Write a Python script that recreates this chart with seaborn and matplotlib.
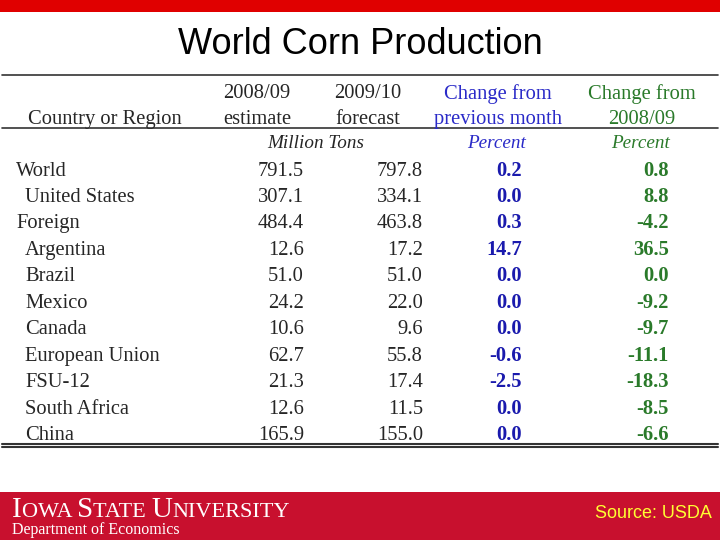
import matplotlib
matplotlib.use('Agg')
import matplotlib.pyplot as plt
import seaborn as sns
import pandas as pd

# table data
regions = ['World', 'United States', 'Foreign', 'Argentina', 'Brazil', 'Mexico',
           'Canada', 'European Union', 'FSU-12', 'South Africa', 'China']
indented = [False, True, False, True, True, True, True, True, True, True, True]
est_0809 = [791.5, 307.1, 484.4, 12.6, 51.0, 24.2, 10.6, 62.7, 21.3, 12.6, 165.9]
fc_0910 = [797.8, 334.1, 463.8, 17.2, 51.0, 22.0, 9.6, 55.8, 17.4, 11.5, 155.0]
chg_month = [0.2, 0.0, 0.3, 14.7, 0.0, 0.0, 0.0, -0.6, -2.5, 0.0, 0.0]
chg_year = [0.8, 8.8, -4.2, 36.5, 0.0, -9.2, -9.7, -11.1, -18.3, -8.5, -6.6]

df = pd.DataFrame({'region': regions, 'indent': indented, 'est': est_0809,
                   'fc': fc_0910, 'month': chg_month, 'year': chg_year})

sns.set_theme(style='white')
plt.rcParams['font.family'] = ['Liberation Serif', 'DejaVu Serif']

BLUE = '#1a1aad'
HBLUE = '#2a2ac8'
GREEN = '#2a7a2a'
RED_TOP = '#e00000'
RED_FOOT = '#c8102e'

fig = plt.figure(figsize=(7.2, 5.4), dpi=100)
ax = fig.add_axes([0, 0, 1, 1])
ax.set_xlim(0, 720)
ax.set_ylim(540, 0)
ax.axis('off')

# top and bottom bands
ax.axhspan(0, 12, color=RED_TOP, lw=0)
ax.axhspan(492, 540, color=RED_FOOT, lw=0)

ax.text(360, 54, 'World Corn Production', ha='center', va='baseline',
        fontsize=26, family='Liberation Sans', color='black')

# rules
ax.plot([2, 718], [75, 75], color='#333333', lw=1.2)
ax.plot([2, 718], [128, 128], color='#333333', lw=1.2)
ax.plot([2, 718], [443.5, 443.5], color='#333333', lw=1.5)
ax.plot([2, 718], [447, 447], color='#333333', lw=1.5)

# header
hs = 14.8
r1, r2 = 98.5, 124
ax.text(105, r2, 'Country or Region', ha='center', va='baseline', fontsize=hs)
ax.text(257, r1, '2008/09', ha='center', va='baseline', fontsize=hs)
ax.text(257, r2, 'estimate', ha='center', va='baseline', fontsize=hs)
ax.text(368, r1, '2009/10', ha='center', va='baseline', fontsize=hs)
ax.text(368, r2, 'forecast', ha='center', va='baseline', fontsize=hs)
ax.text(498, r1, 'Change from', ha='center', va='baseline', fontsize=hs, color=HBLUE)
ax.text(498, r2, 'previous month', ha='center', va='baseline', fontsize=hs, color=HBLUE)
ax.text(642, r1, 'Change from', ha='center', va='baseline', fontsize=hs, color=GREEN)
ax.text(642, r2, '2008/09', ha='center', va='baseline', fontsize=hs, color=GREEN)

us = 13.8
ax.text(316, 148, 'Million Tons', ha='center', va='baseline', fontsize=us, style='italic')
ax.text(497, 148, 'Percent', ha='center', va='baseline', fontsize=us, style='italic', color=HBLUE)
ax.text(641, 148, 'Percent', ha='center', va='baseline', fontsize=us, style='italic', color=GREEN)

# rows
y0, dy = 175.5, 26.45
for i, r in df.iterrows():
    y = y0 + i * dy
    ax.text(25 if r['indent'] else 16, y, r['region'], ha='left', va='baseline', fontsize=hs)
    ax.text(304, y, f"{r['est']:.1f}", ha='right', va='baseline', fontsize=hs)
    ax.text(423, y, f"{r['fc']:.1f}", ha='right', va='baseline', fontsize=hs)
    ax.text(522, y, f"{r['month']:.1f}", ha='right', va='baseline', fontsize=hs,
            weight='bold', color=BLUE)
    ax.text(669, y, f"{r['year']:.1f}", ha='right', va='baseline', fontsize=hs,
            weight='bold', color=GREEN)

# footer: small-caps university name
renderer = fig.canvas.get_renderer()
x = 12
for piece, size in [('I', 21), ('OWA ', 16), ('S', 21), ('TATE ', 16),
                    ('U', 21), ('NIVERSITY', 16)]:
    t = ax.text(x, 517, piece, ha='left', va='baseline', fontsize=size, color='white')
    bb = t.get_window_extent(renderer=renderer)
    x += bb.width
ax.text(12, 530, 'Department of Economics', ha='left', va='center', fontsize=11.5,
        color='white')
ax.text(712, 514, 'Source: USDA', ha='right', va='center', fontsize=13,
        family='Liberation Sans', color='#ffff33')

fig.savefig('out.png', dpi=100)
